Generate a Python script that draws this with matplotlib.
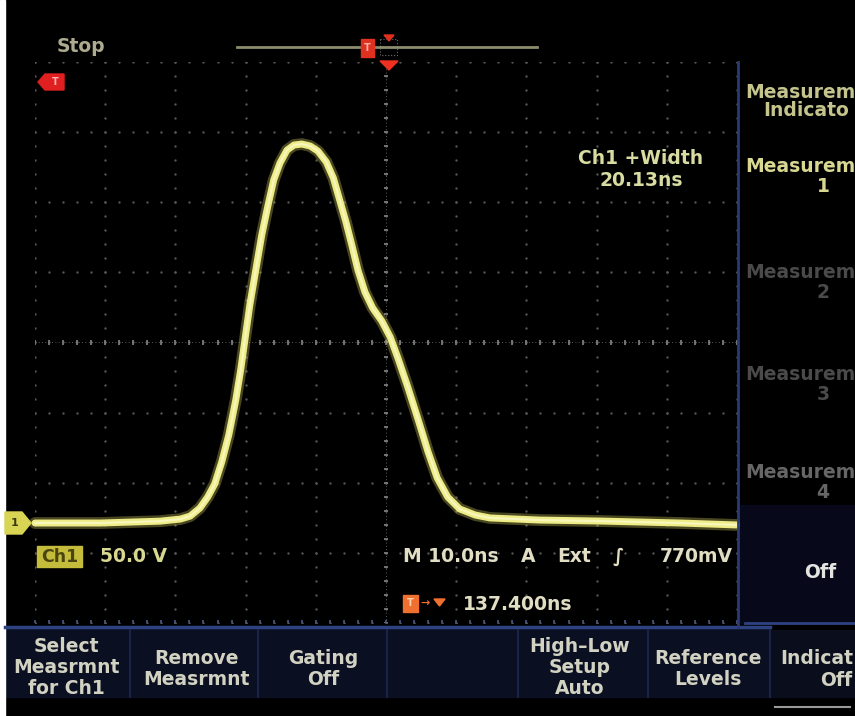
import numpy as np
import matplotlib.pyplot as plt
from matplotlib.patches import Rectangle, Polygon

# Ch1 trace
# time in ns from the left edge of the graticule, volts above the Ch1 ground marker
t_ns = [0, 9.3, 17.8, 20.7, 22.1, 23.5, 24.6, 25.6, 26.6, 27.6, 28.6, 29.3,
        29.9, 30.6, 31.5, 32.3, 33.2, 34.0, 34.9, 35.9, 36.9, 38.0, 39.2,
        40.3, 41.5, 42.5, 43.4, 44.3, 45.2, 46.0, 47.0, 48.1, 49.4, 50.6,
        51.7, 53.1, 54.6, 56.0, 57.3, 58.8, 60.5, 62.7, 64.8, 71.9, 80.5,
        91.9, 100]
volts = [1.3, 1.3, 2.6, 4.1, 6.2, 12.0, 19.8, 29.1, 44.8, 64.0, 89.0, 110.4,
         131.8, 156.7, 183.1, 206.6, 228.0, 245.8, 258.0, 267.2, 270.8, 271.5, 270.1,
         266.5, 258.7, 247.3, 231.6, 215.9, 198.1, 181.7, 166.0, 154.6, 145.3, 133.9,
         118.9, 98.3, 74.7, 51.9, 33.4, 19.8, 11.3, 7.0, 4.9, 3.4, 2.7,
         1.3, -0.1]

ns_per_div = 10.0
volts_per_div = 50.0
ground_div = -2.6          # ch1 ground marker position in divisions from centre

# side menu words are cut by the right edge of the photo, keep what shows
side_labels = ["Measurem\n1", "Measurem\n2", "Measurem\n3", "Measurem\n4"]
menu_labels = ["Select\nMeasrmnt\nfor Ch1", "Remove\nMeasrmnt", "Gating\nOff", "",
               "High\u2013Low\nSetup\nAuto", "Reference\nLevels"]

W, H = 855, 716
fig = plt.figure(figsize=(W / 100, H / 100), dpi=100, facecolor="black")

# pixel-space layer for the bezel / menus / readouts
ui = fig.add_axes([0, 0, 1, 1], zorder=3)
ui.set_xlim(0, W)
ui.set_ylim(H, 0)
ui.axis("off")
ui.patch.set_alpha(0)

# graticule + trace in real units
gx0, gx1, gy0, gy1 = 35, 737, 62, 623
ax = fig.add_axes([gx0 / W, 1 - gy1 / H, (gx1 - gx0) / W, (gy1 - gy0) / H], zorder=2)
ax.set_facecolor("black")
ax.set_xlim(0, 10 * ns_per_div)
vmin = (-4 - ground_div) * volts_per_div
vmax = (4 - ground_div) * volts_per_div
ax.set_ylim(vmin, vmax)
ax.axis("off")

grid_col = "#555555"
# dotted division lines
for k in range(11):
    x = k * ns_per_div
    yy = np.arange(vmin, vmax + 1e-6, volts_per_div / 5)
    ax.scatter(np.full_like(yy, x), yy, s=3, color=grid_col, lw=0)
for k in range(9):
    y = vmin + k * volts_per_div
    xx = np.arange(0, 10 * ns_per_div + 1e-6, ns_per_div / 5)
    ax.scatter(xx, np.full_like(xx, y), s=3, color=grid_col, lw=0)

# centre cross with minor ticks
xc = 5 * ns_per_div
yc = vmin + 4 * volts_per_div
cross_col = "#7a7a7a"
ax.plot([xc, xc], [vmin, vmax], color=cross_col, lw=0.6, ls=(0, (1, 3)))
ax.plot([0, 10 * ns_per_div], [yc, yc], color=cross_col, lw=0.6, ls=(0, (1, 3)))
ty = np.arange(vmin, vmax + 1e-6, volts_per_div / 5)
ax.hlines(ty, xc - 0.35, xc + 0.35, color=cross_col, lw=1.3)
tx = np.arange(0, 10 * ns_per_div + 1e-6, ns_per_div / 5)
ax.vlines(tx, yc - 1.8, yc + 1.8, color=cross_col, lw=1.3)
# ticks along the bottom edge
ax.vlines(tx, vmin, vmin + 2.0, color="#4a5a8a", lw=1.2, clip_on=False)

# trace with a bit of phosphor glow
ax.plot(t_ns, volts, color="#d4cc5c", lw=8.5, alpha=0.35, solid_capstyle="round",
        solid_joinstyle="round", clip_on=False)
ax.plot(t_ns, volts, color="#eeec86", lw=5, solid_capstyle="round",
        solid_joinstyle="round", clip_on=False)
ax.plot(t_ns, volts, color="#fbfbd4", lw=1.6, alpha=0.7, solid_joinstyle="round",
        clip_on=False)

# ---- bezel, panels, menu ----
ui.add_patch(Rectangle((0, 0), 5, H, color="white", zorder=1))
ui.add_patch(Rectangle((740, 505), W - 740, 118, color="#07091a", zorder=0))
ui.add_patch(Rectangle((5, 628), 765, 69, color="#0b0f22", zorder=0))
ui.add_patch(Rectangle((770, 630), W - 770, 67, color="#0a0d1c", zorder=0))
ui.plot([5, 770], [627, 627], color="#2e4282", lw=2.5)
ui.plot([745, W], [623, 623], color="#2e4282", lw=2)
ui.plot([737.5, 737.5], [62, 627], color="#2a3a78", lw=2)
for xd in [130, 258, 387, 518, 648, 770]:
    ui.plot([xd, xd], [630, 697], color="#1a2346", lw=1.5)
ui.plot([775, 850], [707, 707], color="#9a9a9a", lw=1.5)

font = "DejaVu Sans"
fs = 13.5

# top status
ui.text(57, 47, "Stop", color="#aeaa8e", fontsize=fs, fontweight="bold",
        family=font, va="center", ha="left")
ui.plot([237, 537], [47, 47], color="#8c8c6c", lw=2)
ui.add_patch(Rectangle((361, 39), 13, 18, color="#e03020", zorder=4))
ui.text(367.5, 48, "T", color="#ffb0a0", fontsize=7, fontweight="bold",
        ha="center", va="center", zorder=5)
ui.add_patch(Rectangle((380, 39), 17, 16, fill=False, ec="#6a6a6a", lw=0.8, ls=":"))
ui.add_patch(Polygon([[384, 35], [394, 35], [389, 41]], color="#e03020", zorder=4))
ui.add_patch(Polygon([[380, 61], [398, 61], [389, 70]], color="#f03020", zorder=4))

# red trigger-level marker at top left and ch1 ground marker
ui.add_patch(Polygon([[38, 82], [45, 74], [64, 74], [64, 90], [45, 90]],
                     color="#e02020", zorder=4))
ui.text(55, 82, "T", color="#ffb0b0", fontsize=7, fontweight="bold",
        ha="center", va="center", zorder=5)
ui.add_patch(Polygon([[5, 512], [22, 512], [31, 523], [22, 534], [5, 534]],
                     color="#d8d454", zorder=4))
ui.text(15, 523, "1", color="#3a3a10", fontsize=8, fontweight="bold",
        ha="center", va="center", zorder=5)

# measurement readout
ui.text(641, 158, "Ch1 +Width", color="#d8dca0", fontsize=fs, fontweight="bold",
        family=font, ha="center", va="center")
ui.text(641, 181, "20.13ns", color="#d8dca0", fontsize=fs, fontweight="bold",
        family=font, ha="center", va="center")

# channel / timebase readouts
ui.add_patch(Rectangle((37, 546), 45, 21, color="#c4bc3a", zorder=4))
ui.text(59.5, 556.5, "Ch1", color="#4a4410", fontsize=fs - 1, fontweight="bold",
        family=font, ha="center", va="center", zorder=5)
ui.text(100, 556, "50.0 V", color="#d8d890", fontsize=fs, fontweight="bold",
        family=font, ha="left", va="center")
tb_col = "#e2dec4"
ui.text(403, 557, "M 10.0ns", color=tb_col, fontsize=fs, fontweight="bold",
        family=font, ha="left", va="center")
ui.text(528, 557, "A", color=tb_col, fontsize=fs, fontweight="bold",
        family=font, ha="center", va="center")
ui.text(574, 557, "Ext", color=tb_col, fontsize=fs, fontweight="bold",
        family=font, ha="center", va="center")
ui.text(618, 557, "\u222b", color=tb_col, fontsize=fs, fontweight="bold",
        family=font, ha="center", va="center")
ui.text(733, 557, "770mV", color=tb_col, fontsize=fs, fontweight="bold",
        family=font, ha="right", va="center")
ui.add_patch(Rectangle((403, 595), 15, 17, color="#f07030", zorder=4))
ui.text(410.5, 603.5, "T", color="#ffd0b0", fontsize=7, fontweight="bold",
        ha="center", va="center", zorder=5)
ui.text(420, 603, "\u2192", color="#f07030", fontsize=8, fontweight="bold",
        ha="left", va="center")
ui.add_patch(Polygon([[434, 599], [445, 599], [439.5, 606]], color="#f07030"))
ui.text(463, 604, "137.400ns", color=tb_col, fontsize=fs, fontweight="bold",
        family=font, ha="left", va="center")

# right side menu
ui.text(745, 93, "Measurem", color="#c4c48c", fontsize=fs, fontweight="bold",
        family=font, ha="left", va="center")
ui.text(763, 111, "Indicato", color="#c4c48c", fontsize=fs, fontweight="bold",
        family=font, ha="left", va="center")
side_y = [167, 273, 375, 473]
side_col = ["#d8d890", "#4a4a4a", "#4a4a4a", "#666666"]
for lab, y, c in zip(side_labels, side_y, side_col):
    top, num = lab.split("\n")
    ui.text(745, y, top, color=c, fontsize=fs, fontweight="bold", family=font,
            ha="left", va="center")
    ui.text(823, y + 19, num, color=c, fontsize=fs, fontweight="bold", family=font,
            ha="center", va="center")
ui.text(820, 573, "Off", color="#e4e4e0", fontsize=fs, fontweight="bold",
        family=font, ha="center", va="center")

# bottom menu buttons
menu_x = [66, 196, 323, 452, 580, 708]
menu_col = "#d2d2c2"
for lab, x in zip(menu_labels, menu_x):
    if not lab:
        continue
    lines = lab.split("\n")
    y0 = 646 if len(lines) == 3 else 658
    for i, line in enumerate(lines):
        ui.text(x, y0 + i * 21.5, line, color=menu_col, fontsize=fs,
                fontweight="bold", family=font, ha="center", va="center")
ui.text(780, 658, "Indicat", color=menu_col, fontsize=fs, fontweight="bold",
        family=font, ha="left", va="center")
ui.text(820, 680, "Off", color=menu_col, fontsize=fs, fontweight="bold",
        family=font, ha="left", va="center")

fig.savefig("out.png", dpi=100, facecolor="black")
